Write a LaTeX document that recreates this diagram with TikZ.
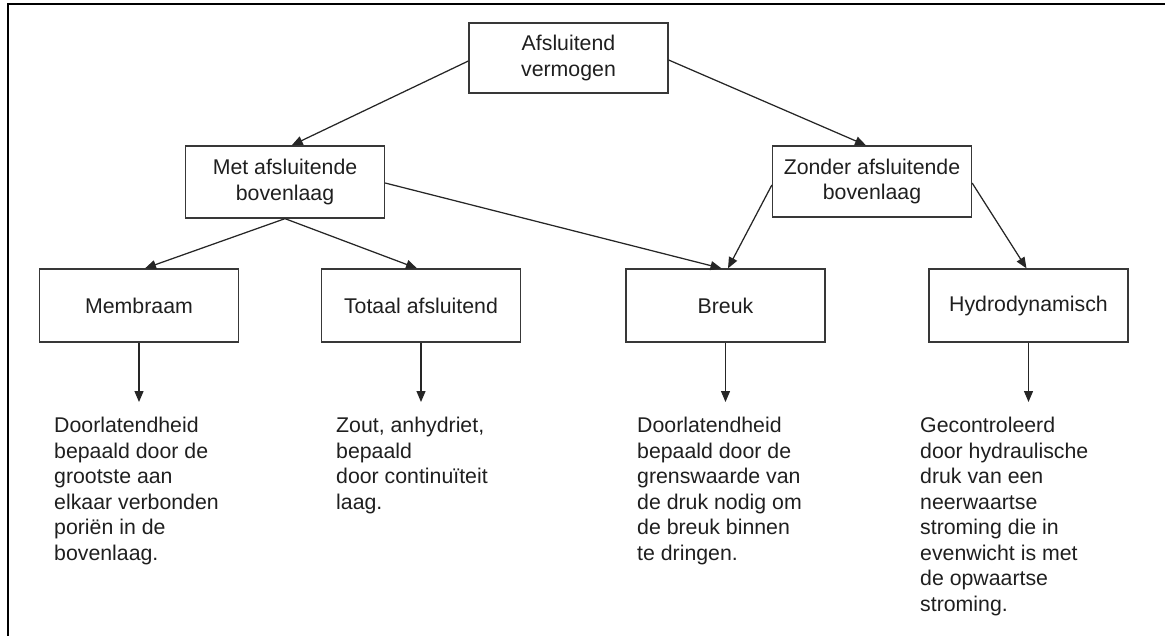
\documentclass[tikz,border=0pt]{standalone}
\usepackage{fontspec}
\setmainfont{Liberation Sans}
\usetikzlibrary{arrows.meta,calc}
\begin{document}
\begin{tikzpicture}[x=1pt,y=-1pt,
  txt/.style={font=\fontsize{21.3}{25.5}\selectfont,text=black!88},
  box/.style={txt,draw=black!78,line width=1.3pt,minimum width=199pt,minimum height=72pt,inner sep=0pt,align=center},
  desc/.style={txt,anchor=north west,inner sep=0pt,align=left},
  arr/.style={draw=black!85,line width=1.25pt,-{Triangle[length=11pt,width=9pt]}}]
\useasboundingbox (0,0) rectangle (1165,635);
\draw[line width=2.4pt] (7.7,636) -- (7.7,4) -- (1166,4);
% boxes
\node[box,minimum height=70pt] (root) at (568.5,58) {Afsluitend\\vermogen};
\node[box] (met) at (285,182) {Met afsluitende\\bovenlaag};
\node[box,minimum height=71pt] (zonder) at (872,181.5) {Zonder afsluitende\\bovenlaag};
\node[box,minimum height=73pt] (mem) at (139,305.5) {Membraam};
\node[box,minimum height=73pt] (tot) at (421,305.5) {Totaal afsluitend};
\node[box,minimum height=73pt] (breuk) at (725.5,305.5) {Breuk};
\node[box,minimum height=73pt] (hydro) at (1028.5,305.5) {Hydrodynamisch};
% descriptions
\node[desc] (dmem) at (54,417) {Doorlatendheid\\bepaald door de\\grootste aan\\elkaar verbonden\\poriën in de\\bovenlaag.};
\node[desc] (dtot) at (336,417) {Zout, anhydriet,\\bepaald\\door continuïteit\\laag.};
\node[desc] (dbreuk) at (637,417) {Doorlatendheid\\bepaald door de\\grenswaarde van\\de druk nodig om\\de breuk binnen\\te dringen.};
\node[desc] (dhydro) at (920,417) {Gecontroleerd\\door hydraulische\\druk van een\\neerwaartse\\stroming die in\\evenwicht is met\\de opwaartse\\stroming.};
% free ends of the vertical arrows
\coordinate (emem) at (139,402);
\coordinate (etot) at (421,402);
\coordinate (ebreuk) at (725.5,402);
\coordinate (ehydro) at (1028.5,402);
% connectors
\draw[arr] ($(root.west)+(0,3)$) -- ($(met.north)+(6.7,0)$);
\draw[arr] ($(root.east)+(0,2)$) -- ($(zonder.north)+(-6,0)$);
\draw[arr] (met.south) -- ($(mem.north)+(6,0)$);
\draw[arr] (met.south) -- ($(tot.north)+(-4,0)$);
\draw[arr] ($(met.east)+(0,1)$) -- ($(breuk.north)+(-4,0)$);
\draw[arr] ($(zonder.west)+(0,3.5)$) -- ($(breuk.north)+(2.5,0)$);
\draw[arr] ($(zonder.east)+(0,1.5)$) -- ($(hydro.north)+(-2,0)$);
\draw[arr] (mem.south) -- (emem);
\draw[arr] (tot.south) -- (etot);
\draw[arr] (breuk.south) -- (ebreuk);
\draw[arr] (hydro.south) -- (ehydro);
\end{tikzpicture}
\end{document}
